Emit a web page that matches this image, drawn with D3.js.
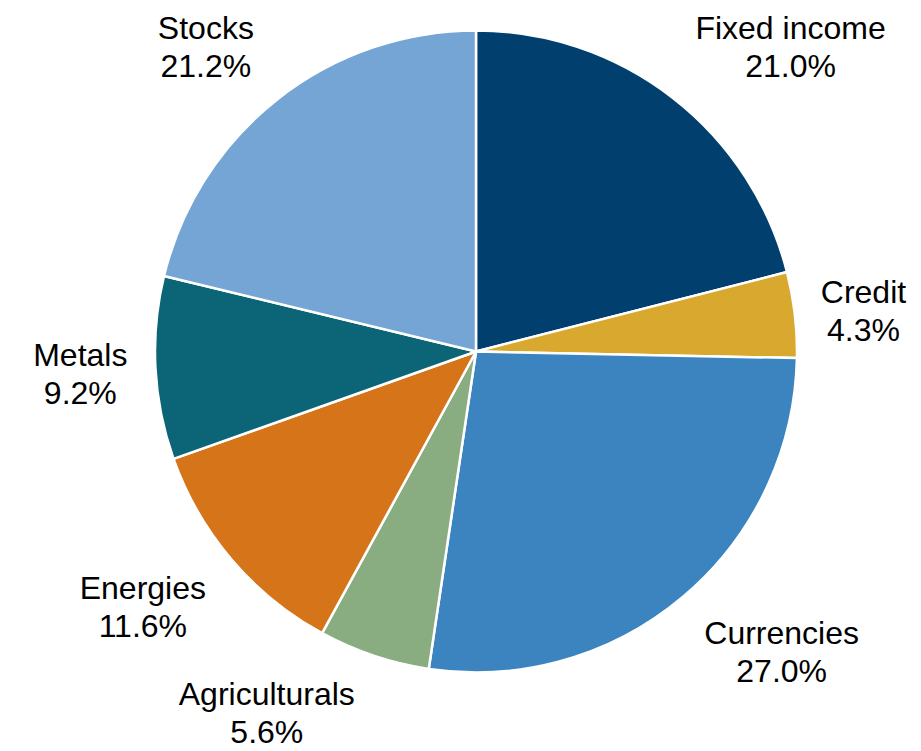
<!DOCTYPE html>
<html><head><meta charset="utf-8">
<script src="https://cdn.jsdelivr.net/npm/d3@7"></script>
<style>html,body{margin:0;padding:0;background:#fff;}</style>
</head><body>
<svg id="chart" width="921" height="751"></svg>
<script>
const categories = ["Fixed income","Credit","Currencies","Agriculturals","Energies","Metals","Stocks"];
const values = [21.0, 4.3, 27.0, 5.6, 11.6, 9.2, 21.2];
const labels = ["21.0%","4.3%","27.0%","5.6%","11.6%","9.2%","21.2%"];
const colors = ["#003f6e","#d9a82e","#3c84bf","#89ac80","#d57418","#0b6577","#74a5d4"];
// small layout nudges for label placement (pixels)
const labelNudge = [[9,3],[4,17],[7,7],[-12,5],[-9,2],[-6,1],[-10,2]];

const svg = d3.select("#chart");
const cx = 476, cy = 351.5, r = 321;
const g = svg.append("g").attr("transform", `translate(${cx},${cy})`);
const data = categories.map((c,i)=>({cat:c, v:values[i], lab:labels[i], col:colors[i], nudge:labelNudge[i]}));
const pie = d3.pie().value(d=>d.v).sort(null);
const arc = d3.arc().innerRadius(0).outerRadius(r);
const arcs = pie(data);
g.selectAll("path").data(arcs).enter().append("path")
  .attr("d", arc).attr("fill", d=>d.data.col)
  .attr("stroke", "#fff").attr("stroke-width", 2.5).attr("stroke-linejoin","round");

const fs = 32, lh = 38;
const font = "'Liberation Sans', Arial, sans-serif";
const clamp = t => Math.max(-1, Math.min(1, t));
arcs.forEach(a => {
  const mid = (a.startAngle + a.endAngle)/2;
  const dx = Math.sin(mid), dy = -Math.cos(mid);
  const R = r + 22;
  const px = dx*R, py = dy*R;
  const t = g.append("text").attr("font-family", font).attr("font-size", fs).attr("fill","#000").attr("text-anchor","middle");
  t.append("tspan").attr("x",0).attr("y",0).text(a.data.cat);
  t.append("tspan").attr("x",0).attr("y",lh).text(a.data.lab);
  const bb = t.node().getBBox();
  const w = bb.width, h = 23 + lh + 7;
  const bcx = px + (w/2)*clamp(dx*4) + a.data.nudge[0];
  const bcy = py + (h/2)*clamp(dy*4) + a.data.nudge[1];
  const b1 = bcy + 23 - h/2;
  t.attr("transform", `translate(${bcx},${b1})`);
});
</script>
</body></html>
